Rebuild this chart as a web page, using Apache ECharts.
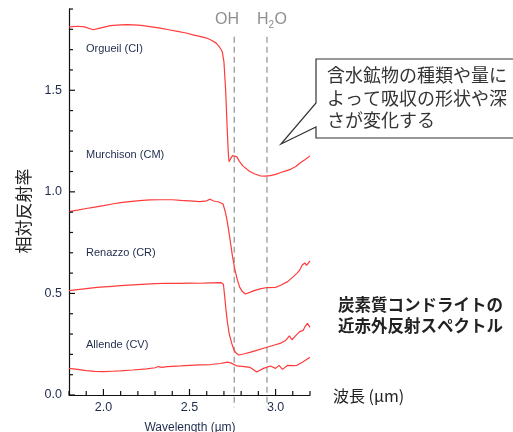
<!DOCTYPE html>
<html>
<head>
<meta charset="utf-8">
<script src="https://cdn.jsdelivr.net/npm/echarts@6/dist/echarts.min.js"></script>
<style>html,body{margin:0;padding:0;background:#fff;}#c{width:513px;height:432px;}</style>
</head>
<body>
<div id="c"></div>
<script>
// Spectra: [wavelength (µm), relative reflectance]
const orgueil = [[1.80,1.812],[1.85,1.815],[1.89,1.812],[1.94,1.798],[1.98,1.806],[2.04,1.818],[2.10,1.822],[2.14,1.823],[2.20,1.821],[2.23,1.818],[2.28,1.812],[2.33,1.806],[2.38,1.798],[2.43,1.790],[2.48,1.782],[2.52,1.773],[2.56,1.765],[2.60,1.757],[2.63,1.745],[2.655,1.732],[2.675,1.712],[2.69,1.691],[2.70,1.640],[2.71,1.50],[2.718,1.33],[2.726,1.18],[2.73,1.148],[2.74,1.165],[2.75,1.178],[2.76,1.187],[2.775,1.172],[2.79,1.150],[2.81,1.128],[2.85,1.100],[2.88,1.088],[2.91,1.079],[2.94,1.077],[2.97,1.080],[3.00,1.086],[3.03,1.095],[3.06,1.103],[3.09,1.112],[3.12,1.126],[3.14,1.141],[3.17,1.158],[3.20,1.177]];
const murchison = [[1.80,0.903],[1.85,0.910],[1.90,0.918],[1.95,0.925],[2.00,0.932],[2.05,0.940],[2.10,0.947],[2.15,0.952],[2.21,0.957],[2.27,0.960],[2.33,0.961],[2.40,0.961],[2.45,0.958],[2.50,0.956],[2.56,0.952],[2.60,0.956],[2.62,0.964],[2.64,0.955],[2.67,0.950],[2.695,0.940],[2.71,0.895],[2.72,0.85],[2.73,0.797],[2.75,0.681],[2.763,0.62],[2.778,0.567],[2.792,0.53],[2.807,0.509],[2.825,0.497],[2.85,0.505],[2.875,0.514],[2.91,0.522],[2.95,0.529],[3.00,0.530],[3.03,0.540],[3.07,0.558],[3.10,0.580],[3.125,0.600],[3.14,0.615],[3.155,0.640],[3.17,0.650],[3.18,0.638],[3.20,0.660]];
const renazzo = [[1.80,0.514],[1.85,0.519],[1.90,0.524],[1.95,0.529],[1.98,0.531],[2.05,0.535],[2.10,0.538],[2.17,0.542],[2.25,0.546],[2.30,0.548],[2.37,0.550],[2.45,0.549],[2.50,0.551],[2.56,0.550],[2.62,0.552],[2.685,0.553],[2.697,0.545],[2.705,0.48],[2.712,0.419],[2.72,0.36],[2.73,0.304],[2.745,0.255],[2.758,0.222],[2.772,0.205],[2.786,0.197],[2.82,0.203],[2.85,0.210],[2.89,0.220],[2.95,0.235],[2.99,0.245],[3.03,0.255],[3.06,0.270],[3.08,0.291],[3.095,0.272],[3.12,0.295],[3.14,0.312],[3.16,0.318],[3.17,0.335],[3.185,0.353],[3.20,0.333]];
const allende = [[1.80,0.131],[1.85,0.126],[1.90,0.120],[1.95,0.116],[2.00,0.115],[2.05,0.117],[2.10,0.119],[2.17,0.123],[2.25,0.129],[2.30,0.134],[2.32,0.140],[2.34,0.136],[2.37,0.140],[2.45,0.143],[2.50,0.146],[2.56,0.148],[2.62,0.150],[2.68,0.155],[2.72,0.162],[2.74,0.158],[2.775,0.143],[2.82,0.140],[2.85,0.136],[2.87,0.125],[2.89,0.113],[2.93,0.131],[2.97,0.143],[3.00,0.131],[3.02,0.146],[3.04,0.126],[3.07,0.146],[3.10,0.145],[3.125,0.146],[3.16,0.164],[3.20,0.186]];
const sampleNames = ['Orgueil (CI)', 'Murchison (CM)', 'Renazzo (CR)', 'Allende (CV)'];
const absorptionBands = [2.76, 2.95]; // OH, H2O
const bandLineSpan = [1.764, -0.06];
const xRange = [1.8, 3.2];
const yRange = [0, 1.9];
// tick positions
const xTicks = [1.8, 1.9, 2.0, 2.1, 2.2, 2.3, 2.4, 2.5, 2.6, 2.7, 2.8, 2.9, 3.0, 3.1, 3.2];
const xMajor = [2.0, 2.5, 3.0];
const yTicks = [0, 0.1, 0.2, 0.3, 0.4, 0.5, 0.6, 0.7, 0.8, 0.9, 1.0, 1.1, 1.2, 1.3, 1.4, 1.5, 1.6, 1.7, 1.8, 1.9];
const yMajor = [0, 0.5, 1.0, 1.5];

const grid = {left: 69, right: 203, top: 9, bottom: 37};
const plotW = 513 - grid.left - grid.right;
const plotH = 432 - grid.top - grid.bottom;
const unitsPerPxX = (xRange[1] - xRange[0]) / plotW;
const unitsPerPxY = (yRange[1] - yRange[0]) / plotH;

const chart = echarts.init(document.getElementById('c'), null, {renderer: 'canvas'});
const lineColor = '#ff3b3b';
const navy = '#1f2b4d';
const latin = '"Liberation Sans", Arial, sans-serif';
const jp = '"Noto Sans CJK JP", sans-serif';

function halfLabel(v) {
  const r = Math.round(v * 10);
  return r % 5 === 0 ? (r / 10).toFixed(1) : '';
}

const seriesData = [orgueil, murchison, renazzo, allende];
const series = seriesData.map((d, i) => ({
  type: 'line', name: sampleNames[i], data: d, showSymbol: false, symbol: 'none',
  lineStyle: {color: lineColor, width: 1.2}, clip: false, silent: true, z: 3
}));
absorptionBands.forEach(b => {
  series.push({
    type: 'line', data: bandLineSpan.map(v => [b, v]), showSymbol: false, symbol: 'none',
    lineStyle: {color: '#9a9a9a', type: [6, 4], width: 1.3}, clip: false, silent: true, z: 2
  });
});
// inward tick marks, each a tiny segment placed through the axis scales
const tickSeries = (pts) => ({
  type: 'line', data: pts, showSymbol: false, symbol: 'none',
  lineStyle: {color: '#111', width: 1.2}, clip: false, silent: true, z: 20
});
xTicks.forEach(v => {
  const len = (xMajor.includes(v) ? 6 : 4) * unitsPerPxY;
  series.push(tickSeries([[v, yRange[0]], [v, yRange[0] + len]]));
});
yTicks.forEach(v => {
  const len = (yMajor.includes(v) ? 6 : 4) * unitsPerPxX;
  series.push(tickSeries([[xRange[0], v], [xRange[0] + len, v]]));
});

const labelY = [49, 155, 253, 345];
const graphics = sampleNames.map((n, i) => ({
  type: 'text', x: 86, y: labelY[i],
  style: {text: n, font: '11px ' + latin, fill: navy, textVerticalAlign: 'middle'}
}));
graphics.push(
  {type: 'text', x: 215, y: 20, style: {text: 'OH', font: '16px ' + latin, fill: '#8f8f8f', textVerticalAlign: 'middle'}},
  {type: 'text', x: 257, y: 20, style: {text: 'H', font: '16px ' + latin, fill: '#8f8f8f', textVerticalAlign: 'middle'}},
  {type: 'text', x: 268.5, y: 25, style: {text: '2', font: '10px ' + latin, fill: '#8f8f8f', textVerticalAlign: 'middle'}},
  {type: 'text', x: 274.5, y: 20, style: {text: 'O', font: '16px ' + latin, fill: '#8f8f8f', textVerticalAlign: 'middle'}},
  {type: 'polygon', shape: {points: [[316,59],[520,59],[520,138],[316,138],[316,127],[281,144],[316,103]]},
   style: {fill: '#fff', stroke: '#333', lineWidth: 1.2}, z: 10},
  {type: 'text', x: 327, y: 64, z: 11,
   style: {text: '含水鉱物の種類や量に\nよって吸収の形状や深\nさが変化する', font: '18px ' + jp, fill: '#333', lineHeight: 22.5}},
  {type: 'text', x: 338, y: 294,
   style: {text: '炭素質コンドライトの\n近赤外反射スペクトル', font: 'bold 16.5px ' + jp, fill: '#222', lineHeight: 21}},
  {type: 'text', x: 333, y: 396,
   style: {text: '波長 (µm)', font: '16px ' + jp, fill: '#222', textVerticalAlign: 'middle'}},
  {type: 'text', x: 190, y: 428,
   style: {text: 'Wavelength (µm)', font: '12px ' + latin, fill: navy, textAlign: 'center', textVerticalAlign: 'middle'}},
  {type: 'text', x: 24, y: 211, rotation: Math.PI / 2,
   style: {text: '相対反射率', font: '17px ' + jp, fill: '#222', textAlign: 'center', textVerticalAlign: 'middle'}}
);

chart.setOption({
  animation: false,
  grid: grid,
  xAxis: {
    type: 'value', min: xRange[0], max: xRange[1], interval: 0.1,
    axisLine: {show: true, onZero: false, lineStyle: {color: '#111', width: 1.2}},
    axisTick: {show: false},
    axisLabel: {formatter: halfLabel, margin: 6, color: navy, fontSize: 12.5, fontFamily: latin},
    splitLine: {show: false}
  },
  yAxis: {
    type: 'value', min: yRange[0], max: yRange[1], interval: 0.1,
    axisLine: {show: true, onZero: false, lineStyle: {color: '#111', width: 1.2}},
    axisTick: {show: false},
    axisLabel: {formatter: halfLabel, margin: 7, color: navy, fontSize: 12.5, fontFamily: latin},
    splitLine: {show: false}
  },
  series: series,
  graphic: graphics
});
</script>
</body>
</html>
